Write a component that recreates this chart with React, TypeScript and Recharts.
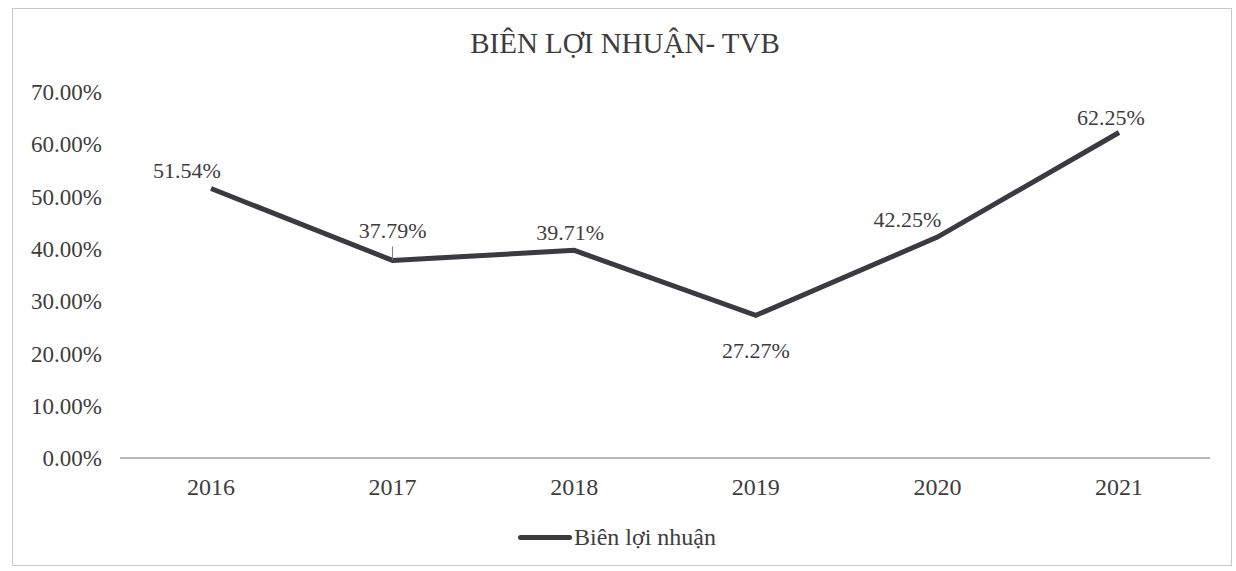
import React from "react";
import { LineChart, Line, XAxis, YAxis, Legend, LabelList } from "recharts";

const years = ["2016", "2017", "2018", "2019", "2020", "2021"];
const margins = [51.54, 37.79, 39.71, 27.27, 42.25, 62.25];
const yTicks = [0, 10, 20, 30, 40, 50, 60, 70];

const seriesName = "Biên lợi nhuận";
const title = "BIÊN LỢI NHUẬN- TVB";

const data = years.map((year, i) => ({ year, value: margins[i] }));

// label nudges, the scan puts them where Excel placed them
const labelOffsets = [
  { dx: -24, dy: -11 },
  { dx: 0, dy: -22 },
  { dx: -4, dy: -10 },
  { dx: 0, dy: 43 },
  { dx: -30, dy: -10 },
  { dx: -8, dy: -8 },
];

const FONT = "'Liberation Serif', 'DejaVu Serif', serif";
const INK = "#3d3d3d";

const renderLabel = (props: any) => {
  const { x, y, index, value } = props;
  const off = labelOffsets[index] || { dx: 0, dy: -10 };
  return (
    <g>
      {index === 1 && (
        <line x1={x} y1={y - 14} x2={x} y2={y} stroke="#777" strokeWidth={1} />
      )}
      <text
        x={x + off.dx}
        y={y + off.dy}
        textAnchor="middle"
        fontFamily={FONT}
        fontSize={22}
        fill={INK}
      >
        {Number(value).toFixed(2)}%
      </text>
    </g>
  );
};

const renderLegend = () => (
  <div
    style={{
      display: "flex",
      alignItems: "center",
      justifyContent: "center",
      fontFamily: FONT,
      fontSize: 24,
      color: INK,
      marginLeft: 16,
      paddingTop: 16,
    }}
  >
    <span
      style={{
        display: "inline-block",
        width: 54,
        height: 5,
        background: "#3a3a40",
        borderRadius: 3,
        marginRight: 2,
      }}
    />
    {seriesName}
  </div>
);

export default function App() {
  return (
    <div
      style={{
        position: "absolute",
        left: 0,
        top: 0,
        width: 1236,
        height: 571,
        background: "#fff",
      }}
    >
      <div
        style={{
          position: "absolute",
          left: 12,
          top: 8,
          width: 1220,
          height: 558,
          border: "1px solid #c8c8c8",
          boxSizing: "border-box",
        }}
      />
      <div
        style={{
          position: "absolute",
          left: 0,
          width: 1250,
          top: 27,
          textAlign: "center",
          fontFamily: FONT,
          fontSize: 29,
          color: INK,
        }}
      >
        {title}
      </div>
      <LineChart
        width={1236}
        height={571}
        data={data}
        margin={{ top: 92, right: 26, bottom: 10, left: 8 }}
      >
        <XAxis
          dataKey="year"
          axisLine={{ stroke: "#a0a0a0", strokeWidth: 1.5 }}
          tickLine={false}
          tickMargin={14}
          height={50}
          interval={0}
          padding={{ left: 91, right: 91 }}
          tick={{ fontFamily: FONT, fontSize: 24, fill: INK }}
        />
        <YAxis
          domain={[0, 70]}
          ticks={yTicks}
          width={112}
          axisLine={false}
          tickLine={false}
          tickMargin={12}
          tickFormatter={(v: number) => `${v.toFixed(2)}%`}
          tick={{ fontFamily: FONT, fontSize: 23, fill: INK }}
        />
        <Legend verticalAlign="bottom" height={53} content={renderLegend} />
        <Line
          type="linear"
          dataKey="value"
          name={seriesName}
          stroke="#3a3a40"
          strokeWidth={5}
          dot={false}
          isAnimationActive={false}
        >
          <LabelList dataKey="value" content={renderLabel} />
        </Line>
      </LineChart>
    </div>
  );
}
